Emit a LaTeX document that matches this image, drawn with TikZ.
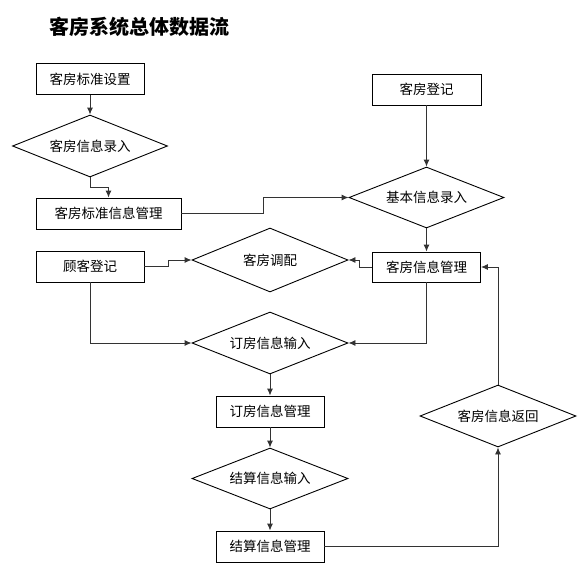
\documentclass[tikz,border=0pt]{standalone}
\usepackage{fontspec}
\setmainfont{Noto Sans CJK SC}
\usetikzlibrary{shapes.geometric,arrows.meta}
\tikzset{
  box/.style={draw=black, line width=0.9pt, rectangle, inner sep=0pt, minimum width=108pt, minimum height=31pt, font=\fontsize{13.5}{15}\selectfont},
  dia/.style={draw=black, line width=0.9pt, diamond, aspect=2.5, inner sep=0pt, minimum width=156pt, minimum height=62pt, font=\fontsize{13.5}{15}\selectfont},
  arr/.style={draw=black!80, line width=0.9pt, -{Latex[length=7pt,width=6pt]}},
}
\begin{document}
\begin{tikzpicture}[x=1pt,y=-1pt]
\useasboundingbox (0,0) rectangle (578,573);
\node (title) at (139,27) {\fontsize{20}{22}\selectfont\bfseries 客房系统总体数据流};
\node[box] (b1) at (90,79) {客房标准设置};
\node[dia, minimum width=155pt] (d1) at (90,146) {客房信息录入};
\node[box, minimum width=145pt] (b2) at (108.5,213.5) {客房标准信息管理};
\node[box, minimum width=109pt] (b3) at (426.5,89.5) {客房登记};
\node[dia, minimum width=155pt, minimum height=61pt] (d2) at (426.5,197.5) {基本信息录入};
\node[box, minimum height=30pt] (b4) at (426.5,267) {客房信息管理};
\node[box] (b5) at (90,266.5) {顾客登记};
\node[dia, minimum height=64pt] (d3) at (270,260) {客房调配};
\node[dia] (d4) at (270,343) {订房信息输入};
\node[box] (b6) at (270,411.5) {订房信息管理};
\node[dia, minimum height=61pt] (d5) at (270,478.5) {结算信息输入};
\node[box] (b7) at (270,546.5) {结算信息管理};
\node[dia] (d6) at (498,416) {客房信息返回};

\draw[arr] (b1.south) -- (d1.north);
\draw[arr] (d1.south) -- ++(0,10) -| (b2.north);
\draw[arr] (b2.east) -- ++(82,0) |- (d2.west);
\draw[arr] (b3.south) -- (d2.north);
\draw[arr] (d2.south) -- (b4.north);
\draw[arr] (b5.east) -- ++(24,0) |- (d3.west);
\draw[arr] (b4.west) -- ++(-12.5,0) |- (d3.east);
\draw[arr] (b5.south) |- (d4.west);
\draw[arr] (b4.south) |- (d4.east);
\draw[arr] (d4.south) -- (b6.north);
\draw[arr] (b6.south) -- (d5.north);
\draw[arr] (d5.south) -- (b7.north);
\draw[arr] (b7.east) -| (d6.south);
\draw[arr] (d6.north) |- (b4.east);
\end{tikzpicture}
\end{document}
